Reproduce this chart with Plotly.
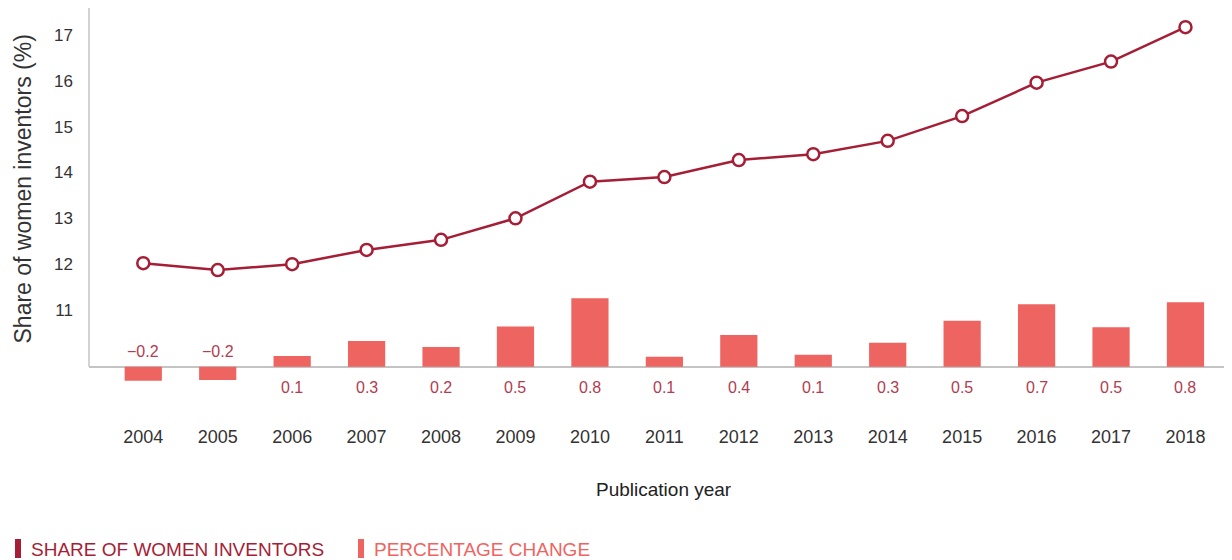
import plotly.graph_objects as go

years = ["2004", "2005", "2006", "2007", "2008", "2009", "2010", "2011",
         "2012", "2013", "2014", "2015", "2016", "2017", "2018"]
share_women = [12.02, 11.87, 12.00, 12.31, 12.53, 13.00, 13.80, 13.90,
               14.27, 14.40, 14.69, 15.23, 15.96, 16.42, 17.17]
pct_change = [-0.164, -0.155, 0.125, 0.30, 0.23, 0.47, 0.80, 0.117,
              0.37, 0.14, 0.28, 0.538, 0.73, 0.46, 0.755]
y_ticks = [11, 12, 13, 14, 15, 16, 17]

LINE_C = "#A51E36"
BAR_C = "#EE6461"
LABEL_C = "#B23C50"
TEXT_C = "#333333"
AXIS_C = "#C4C4C4"
FONT = "Liberation Sans, Arial, sans-serif"

Y_RANGE = [9.145, 17.589]
Y2_RANGE = [-0.331, 4.195]

fig = go.Figure()

fig.add_trace(go.Bar(
    x=years, y=pct_change, yaxis="y2",
    marker=dict(color=BAR_C, line=dict(width=0)),
    width=0.5, showlegend=False, hoverinfo="skip",
))

fig.add_trace(go.Scatter(
    x=years, y=share_women, yaxis="y",
    mode="lines+markers",
    line=dict(color=LINE_C, width=2.5),
    marker=dict(size=12, color="white", line=dict(color=LINE_C, width=2.5)),
    showlegend=False, cliponaxis=False,
))

annotations = []
for i, v in enumerate(pct_change):
    label = f"{v:.1f}".replace("-", "\u2212")
    annotations.append(dict(
        x=i, y=0, xref="x", yref="y2", text=label, showarrow=False,
        yanchor="middle", xanchor="center",
        yshift=(-21 if v >= 0 else 15),
        font=dict(family=FONT, size=16, color=LABEL_C),
    ))

# axis titles
annotations.append(dict(
    x=0, y=0.531, xref="paper", yref="paper", xshift=-66,
    text="Share of women inventors (%)", textangle=-90, showarrow=False,
    xanchor="center", yanchor="middle",
    font=dict(family=FONT, size=23, color=TEXT_C),
))
annotations.append(dict(
    x=0.503, y=0, xref="paper", yref="paper", yshift=-94,
    text="Publication year", showarrow=False,
    xanchor="center", yanchor="middle",
    font=dict(family=FONT, size=19, color="#222222"),
))

# custom legend
legend_items = [("SHARE OF WOMEN INVENTORS", LINE_C, -74, -60),
                ("PERCENTAGE CHANGE", BAR_C, 269, 283)]
shapes = []
for text, col, mx, tx in legend_items:
    shapes.append(dict(
        type="rect", xref="paper", yref="paper",
        xsizemode="pixel", ysizemode="pixel", xanchor=0, yanchor=0,
        x0=mx, x1=mx + 6, y0=-144, y1=-163,
        fillcolor=col, line=dict(width=0),
    ))
    annotations.append(dict(
        x=0, y=0, xref="paper", yref="paper", xshift=tx, yshift=-154,
        text=text, showarrow=False, xanchor="left", yanchor="middle",
        font=dict(family=FONT, size=19, color=col),
    ))

# left axis line, from the baseline up to the top of the plot
shapes.append(dict(
    type="line", xref="paper", yref="y2", x0=0, x1=0,
    y0=0, y1=Y2_RANGE[1], line=dict(color=AXIS_C, width=1.5),
))

fig.update_layout(
    width=1224, height=552,
    margin=dict(l=81, r=0, t=0, b=165),
    paper_bgcolor="white", plot_bgcolor="rgba(0,0,0,0)",
    showlegend=False,
    xaxis=dict(
        type="category", range=[-0.729, 14.625],
        showline=False, showgrid=False, zeroline=False,
        ticks="outside", ticklen=25, tickcolor="rgba(0,0,0,0)",
        tickfont=dict(family=FONT, size=18, color=TEXT_C),
    ),
    yaxis=dict(
        range=Y_RANGE, tickvals=y_ticks,
        showgrid=False, zeroline=False, showline=False,
        ticks="", ticklabelstandoff=15,
        tickfont=dict(family=FONT, size=17, color=TEXT_C),
    ),
    yaxis2=dict(
        range=Y2_RANGE, overlaying="y", side="right",
        showgrid=False, showticklabels=False, ticks="", showline=False,
        zeroline=True, zerolinecolor=AXIS_C, zerolinewidth=1.5,
    ),
    annotations=annotations,
    shapes=shapes,
)

fig.write_html("out.html")
